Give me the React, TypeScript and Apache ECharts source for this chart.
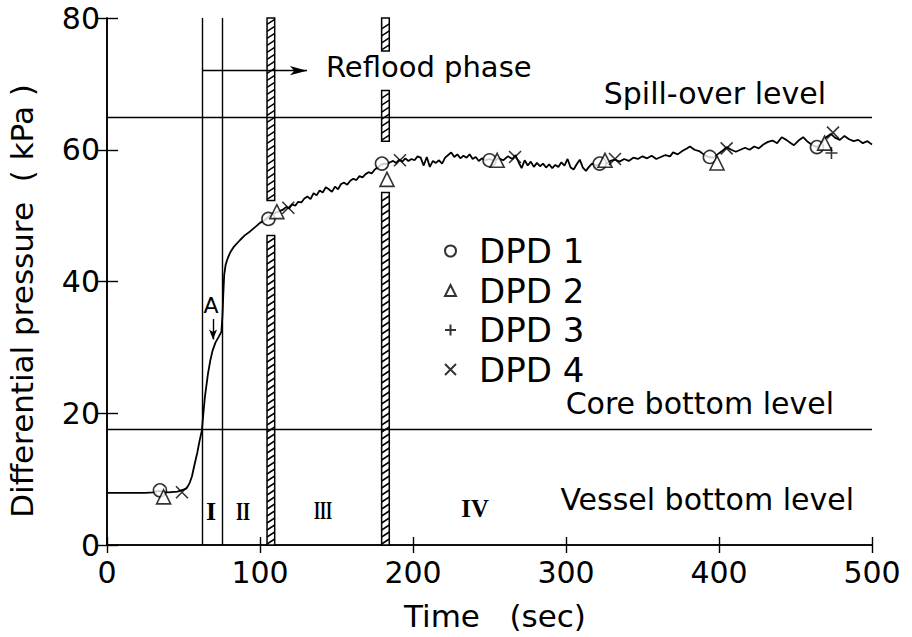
import React, { useEffect, useRef } from "react";
import * as echarts from "echarts";

const timeRange = [0, 500];
const pressureRange = [0, 80];
const timeInterval = 100;
const pressureInterval = 20;

const levelLines = [65, 17.5]; // spill-over, core bottom
const phaseLines = [62.1, 75.5];
// [t0, t1, vLow, vHigh] visible pieces of the two hatched bands
const hatchSegments = [
  [104.6, 109.6, 0, 47],
  [104.6, 109.6, 52.3, 80],
  [179.5, 184.5, 0, 53.5],
  [179.5, 184.5, 61.3, 69],
  [179.5, 184.5, 75, 80],
];
const refloodArrow = [[62.1, 72], [130.7, 72]];
const pointAArrow = [[69.3, 34.3], [69.3, 31.2]];

const curve = [
  [0, 7.9], [25, 7.9], [30, 8.0], [34, 8.2], [40, 8.0], [46, 8.1], [50, 8.4], [52, 8.6],
  [54, 9.4], [55.5, 10.4], [57, 12], [59, 14], [60.5, 15.8], [62, 17.4], [63, 20], [64, 22.5],
  [66, 26], [67.5, 28], [69, 29.5], [71, 30.8], [73, 31.6], [74.8, 32.4], [75.5, 35], [76, 38],
  [76.6, 41], [77.5, 42.5], [79, 43.6], [80.5, 44.4], [83, 45.3], [87, 46.3], [90, 47],
  [93.5, 47.6], [97, 48.3], [100, 48.9], [103, 49.3], [106, 49.9], [109, 50.3], [112, 50.6],
  [115, 50.9], [117, 51.3], [119, 51.1], [121, 51.7], [123, 51.5], [125, 52.1], [127, 52.0],
  [129, 52.6], [131, 52.9], [133, 52.5], [135, 53.4], [137, 53.1], [139, 53.8], [141, 53.5],
  [143, 54.3], [145, 54.0], [147, 53.6], [149, 54.4], [151, 54.0], [153, 54.8], [155, 55.0],
  [157, 54.7], [159, 55.3], [161, 55.6], [163, 55.4], [165, 56.0], [167, 55.8], [169, 56.3],
  [171, 56.6], [173, 56.4], [175, 57.0], [177, 57.3], [179, 57.7], [181, 57.9], [183, 57.8],
  [185, 58.1], [187, 58.3], [189, 58.0], [191, 58.5], [193, 58.2], [195, 58.7], [197, 58.3],
  [199, 58.6], [201, 58.4], [203, 59.0], [205, 58.8], [207, 57.6], [209, 58.9], [211, 57.4],
  [213, 58.3], [215, 58.0], [217, 58.4], [219, 57.9], [221, 58.8], [223, 59.2], [225, 59.6],
  [227, 58.9], [229, 59.3], [231, 58.7], [233, 59.1], [235, 58.8], [237, 59.3], [239, 58.6],
  [241, 58.9], [243, 58.3], [245, 58.7], [247, 58.4], [250, 58.6], [253, 58.3], [256, 58.7],
  [259, 58.4], [262, 59.0], [265, 58.6], [267, 59.2], [269, 58.1], [271, 57.2], [273, 58.4],
  [275, 57.6], [277, 58.2], [279, 57.4], [281, 58.0], [283, 57.5], [285, 57.9], [287, 57.3],
  [289, 57.8], [291, 57.2], [293, 57.7], [295, 57.4], [297, 58.1], [299, 57.6], [301, 58.6],
  [303, 57.3], [305, 57.0], [307, 57.8], [309, 58.5], [311, 57.3], [313, 56.8], [315, 57.4],
  [317, 57.9], [320, 57.6], [323, 58.0], [326, 57.8], [329, 58.3], [332, 58.5], [335, 58.2],
  [338, 58.6], [341, 58.3], [344, 58.8], [347, 58.6], [350, 59.0], [353, 58.7], [356, 59.1],
  [359, 58.6], [362, 58.9], [365, 59.2], [368, 59.0], [370, 59.6], [373, 59.3], [376, 59.8],
  [379, 60.2], [381, 60.5], [384, 60.0], [387, 59.8], [390, 59.3], [393, 58.9], [396, 58.8],
  [399, 59.3], [402, 59.8], [405, 60.4], [408, 60.0], [411, 59.7], [414, 60.0], [417, 60.3],
  [420, 60.0], [423, 60.5], [426, 60.2], [429, 60.8], [432, 61.2], [435, 61.4], [438, 61.0],
  [441, 61.9], [444, 61.5], [447, 61.0], [449, 60.7], [452, 61.4], [455, 61.9], [458, 61.2],
  [461, 60.7], [464, 60.4], [467, 61.0], [470, 61.9], [473, 62.4], [476, 61.8], [479, 61.5],
  [482, 62.1], [485, 61.6], [488, 61.3], [491, 61.5], [494, 61.0], [497, 61.3], [500, 60.8],
];

const dpd1 = [[34.6, 8.3], [105.5, 49.5], [179.7, 57.9], [250, 58.4], [322, 57.9], [394, 58.9], [464, 60.4]];
const dpd2 = [[37, 7.3], [111, 50.6], [183, 55.5], [255, 58.4], [325.5, 58.4], [398.7, 58.0], [469, 61.0]];
const dpd3 = [[473.5, 59.5]];
const dpd4 = [[49, 8.0], [118.5, 51.2], [191.5, 58.4], [266.7, 58.9], [332, 58.6], [405, 60.2], [474.5, 62.6]];

const legendNames = ["DPD 1", "DPD 2", "DPD 3", "DPD 4"];

const FONT = "DejaVu Sans";

function txt(text: string, x: number, y: number, size: number, align = "left", extra: any = {}) {
  return {
    type: "text",
    x,
    y,
    silent: true,
    ...extra,
    style: {
      text,
      fill: "#000",
      fontSize: size,
      fontFamily: extra.fontFamily || FONT,
      fontWeight: extra.fontWeight || "normal",
      align,
      verticalAlign: "middle",
      textAlign: align,
      textVerticalAlign: "middle",
    },
  };
}

export default function App() {
  const ref = useRef<HTMLDivElement>(null);
  useEffect(() => {
    if (!ref.current) return;
    const chart = echarts.init(ref.current, null, { renderer: "svg" });
    const axisLine = { show: true, lineStyle: { color: "#000", width: 1.6 } };
    const option: any = {
      animation: false,
      backgroundColor: "#fff",
      grid: { left: 107, right: 40, top: 18, bottom: 92 },
      legend: {
        data: legendNames,
        orient: "vertical",
        left: 444,
        top: 234,
        padding: 0,
        itemWidth: 11,
        itemHeight: 11,
        itemGap: 5.5,
        selectedMode: false,
        textStyle: { fontSize: 34, fontFamily: FONT, color: "#000", padding: [0, 0, 0, 18] },
      },
      xAxis: [
        {
          type: "value",
          min: timeRange[0],
          max: timeRange[1],
          interval: timeInterval,
          axisLine,
          axisTick: { show: true, inside: true, length: 8, lineStyle: { color: "#000", width: 1.4 } },
          axisLabel: { fontSize: 30, fontFamily: FONT, color: "#000", margin: 12 },
          splitLine: { show: false },
        },
        {
          type: "value",
          position: "top",
          min: timeRange[0],
          max: timeRange[1],
          interval: timeInterval,
          axisLine,
          axisTick: { show: true, inside: true, length: 8, lineStyle: { color: "#000", width: 1.4 } },
          axisLabel: { show: false },
          splitLine: { show: false },
        },
      ],
      yAxis: [
        {
          type: "value",
          min: pressureRange[0],
          max: pressureRange[1],
          interval: pressureInterval,
          axisLine,
          axisTick: { show: true, inside: true, length: 11, lineStyle: { color: "#000", width: 1.4 } },
          axisLabel: { fontSize: 30, fontFamily: FONT, color: "#000", margin: 7 },
          splitLine: { show: false },
        },
        {
          type: "value",
          position: "right",
          min: pressureRange[0],
          max: pressureRange[1],
          interval: pressureInterval,
          axisLine,
          axisTick: { show: true, inside: true, length: 11, lineStyle: { color: "#000", width: 1.4 } },
          axisLabel: { show: false },
          splitLine: { show: false },
        },
      ],
      series: [
        {
          type: "custom",
          name: "bands",
          silent: true,
          z: 1,
          encode: { x: [0, 1], y: [2, 3] },
          data: hatchSegments,
          renderItem: (params: any, api: any) => {
            const tl = api.coord([api.value(0), api.value(3)]);
            const br = api.coord([api.value(1), api.value(2)]);
            const x0 = tl[0], y0 = tl[1], x1 = br[0], y1 = br[1];
            const children: any[] = [
              {
                type: "rect",
                shape: { x: x0, y: y0, width: x1 - x0, height: y1 - y0 },
                style: { fill: "#fff", stroke: "#000", lineWidth: 1.5 },
              },
            ];
            for (let y = y1 - 1; y - 5 > y0; y -= 7) {
              children.push({
                type: "line",
                shape: { x1: x0, y1: y, x2: x1, y2: y - 5 },
                style: { stroke: "#000", lineWidth: 1.5 },
              });
            }
            return { type: "group", children };
          },
        },
        {
          type: "line",
          name: "curve",
          data: curve,
          showSymbol: false,
          symbol: "none",
          z: 3,
          silent: true,
          lineStyle: { color: "#000", width: 1.8 },
          markLine: {
            silent: true,
            symbol: "none",
            label: { show: false },
            lineStyle: { color: "#000", width: 1.4, type: "solid" },
            emphasis: { disabled: true },
            data: [
              ...phaseLines.map((t) => ({ xAxis: t })),
              ...levelLines.map((v) => ({ yAxis: v })),
              [
                { coord: refloodArrow[0], symbol: "none" },
                { coord: refloodArrow[1], symbol: "arrow", symbolSize: [7, 17] },
              ],
              [
                { coord: pointAArrow[0], symbol: "none" },
                { coord: pointAArrow[1], symbol: "arrow", symbolSize: [6, 10] },
              ],
            ],
          },
        },
        {
          type: "scatter",
          name: "DPD 1",
          data: dpd1,
          symbol: "circle",
          symbolSize: 13,
          z: 4,
          itemStyle: { color: "#fff", borderColor: "#000", borderWidth: 1.6 },
        },
        {
          type: "scatter",
          name: "DPD 2",
          data: dpd2,
          symbol: "triangle",
          symbolSize: 14,
          z: 4,
          itemStyle: { color: "#fff", borderColor: "#000", borderWidth: 1.6 },
        },
        {
          type: "scatter",
          name: "DPD 3",
          data: dpd3,
          symbol: "path://M5,0L5,10M0,5L10,5",
          symbolSize: 12,
          z: 5,
          itemStyle: { color: "rgba(0,0,0,0)", borderColor: "#000", borderWidth: 1.6 },
        },
        {
          type: "scatter",
          name: "DPD 4",
          data: dpd4,
          symbol: "path://M0,0L10,10M10,0L0,10",
          symbolSize: 12,
          z: 5,
          itemStyle: { color: "rgba(0,0,0,0)", borderColor: "#000", borderWidth: 1.6 },
        },
      ],
      graphic: [
        txt("Differential pressure  ( kPa )", 22, 301, 31, "center", { rotation: Math.PI / 2 }),
        txt("Time   (sec)", 495, 616, 31, "center"),
        txt("Reflood phase", 326, 67, 29, "left"),
        txt("Spill-over level", 826, 93, 30, "right"),
        txt("Core bottom level", 834, 403, 30, "right"),
        txt("Vessel bottom level", 854, 499, 30, "right"),
        txt("A", 211, 305, 22, "center"),
        txt("I", 211, 511, 26, "center", { fontFamily: "Liberation Serif", fontWeight: "bold" }),
        txt("II", 243, 511, 26, "center", { fontFamily: "Liberation Serif", fontWeight: "bold", scaleX: 0.7 }),
        txt("III", 323, 511, 26, "center", { fontFamily: "Liberation Serif", fontWeight: "bold", scaleX: 0.6 }),
        txt("IV", 475, 508, 26, "center", { fontFamily: "Liberation Serif", fontWeight: "bold", scaleX: 0.95 }),
      ],
    };
    chart.setOption(option);
    return () => chart.dispose();
  }, []);
  return <div ref={ref} style={{ position: "fixed", left: 0, top: 0, width: 912, height: 637 }} />;
}
